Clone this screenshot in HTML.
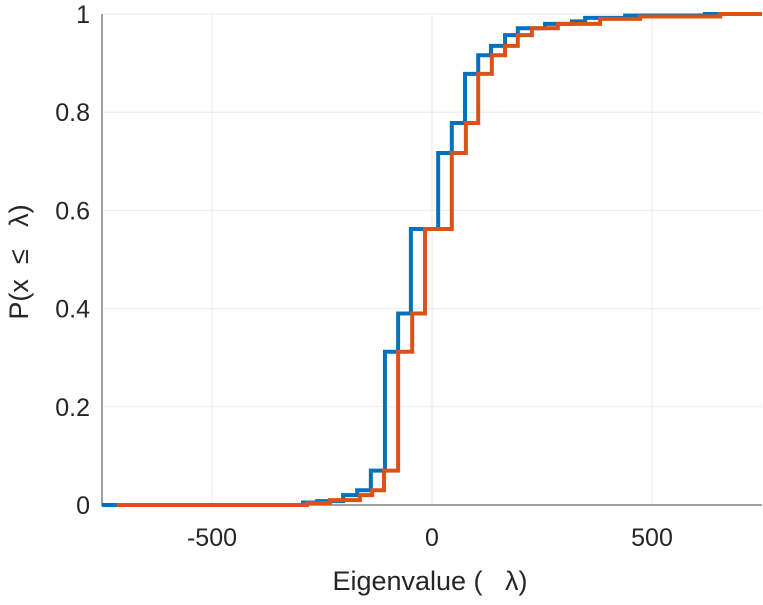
<!DOCTYPE html>
<html><head><meta charset="utf-8"><style>
body{margin:0;background:#fff;}
svg text{font-family:"Liberation Sans",sans-serif;fill:#262626;white-space:pre;}
</style></head><body>
<svg width="763" height="600">
<g id="grid"></g>
<g id="axes"></g>
<g id="series"></g>
<text x="430" y="590" text-anchor="middle" font-size="27">Eigenvalue (   λ)</text>
<text transform="translate(28,262) rotate(-90)" text-anchor="middle" font-size="27">P(x  ≤   λ)</text>
</svg>
<script>
const xTicks=[-500,0,500];
const xTickLabels=["-500","0","500"];
const yTicks=[0,0.2,0.4,0.6,0.8,1];
const yTickLabels=["0","0.2","0.4","0.6","0.8","1"];
const blueX=[-750,-293,-261,-202,-170,-139,-107,-77,-48,14,45,75,105,134,166,195,257,318,348,439,620,750];
const blueY=[0,0.005,0.008,0.02,0.03,0.07,0.312,0.39,0.562,0.717,0.778,0.878,0.916,0.935,0.957,0.971,0.98,0.985,0.992,0.997,1,1];
const orangeX=[-716,-284,-232,-164,-136,-109,-77,-45,-16,45,77,105,136,166,195,227,286,382,473,655,750];
const orangeY=[0,0.004,0.01,0.02,0.03,0.07,0.312,0.39,0.562,0.717,0.778,0.878,0.916,0.935,0.957,0.971,0.98,0.99,0.995,1,1];
const L=102,R=762,T=14,B=505;
const sx=v=>L+(v+750)/1500*(R-L);
const sy=v=>B-v*(B-T);
const NS="http://www.w3.org/2000/svg";
function mk(t,a,p){const e=document.createElementNS(NS,t);for(const k in a)e.setAttribute(k,a[k]);p.appendChild(e);return e;}
const grid=document.getElementById('grid'),axes=document.getElementById('axes'),ser=document.getElementById('series');
xTicks.forEach((v,i)=>{
 const g=mk('line',{x1:sx(v),x2:sx(v),y1:T,y2:B,stroke:'#ebebeb','stroke-width':1},grid);
 
 
 const t=mk('text',{x:sx(v),y:B+41,'text-anchor':'middle','font-size':'25'},axes);
 t.textContent=xTickLabels[i];
 
 
});
yTicks.forEach((v,i)=>{
 const g=mk('line',{x1:L,x2:R,y1:sy(v),y2:sy(v),stroke:'#ebebeb','stroke-width':1},grid);
 
 
 const t=mk('text',{x:L-12,y:sy(v)+9,'text-anchor':'end','font-size':'25'},axes);
 t.textContent=yTickLabels[i];
 
 
});
const ax=mk('path',{d:`M${L},${T}V${B}H${R}`,fill:'none',stroke:'#a0a0a0','stroke-width':2},axes);


function step(xs,ys){let d=`M${sx(xs[0])},${sy(ys[0])}`;for(let i=1;i<xs.length;i++){d+=`H${sx(xs[i])}V${sy(ys[i])}`;}return d;}
const b=mk('path',{d:step(blueX,blueY),fill:'none',stroke:'#0072BD','stroke-width':4},ser);


const o=mk('path',{d:step(orangeX,orangeY),fill:'none',stroke:'#D95319','stroke-width':4},ser);


</script>
</body></html>
